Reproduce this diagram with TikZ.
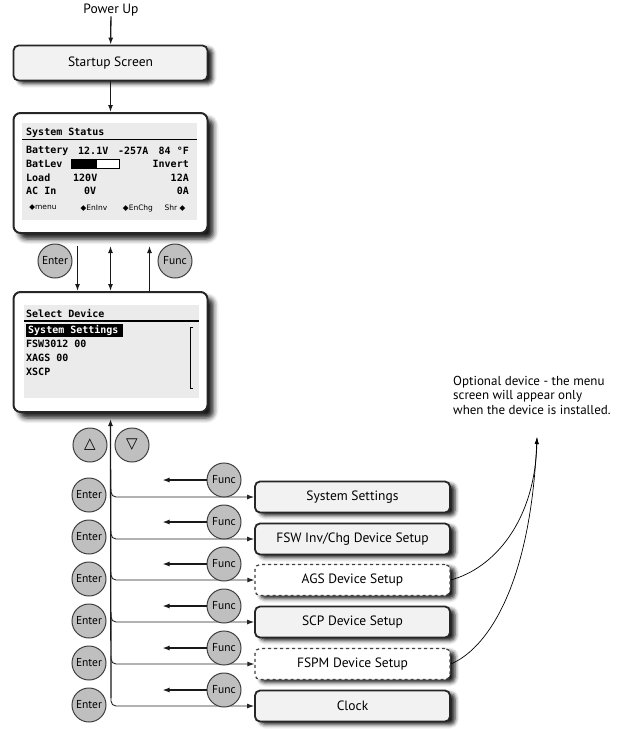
\documentclass[tikz,border=0pt]{standalone}
\usepackage{fontspec}
\setmainfont{PT Sans}
\newfontfamily\lcd{DejaVu Sans Mono}
\newfontfamily\djv{DejaVu Sans}
\usetikzlibrary{arrows.meta,shadows.blur}
\begin{document}
\begin{tikzpicture}[x=1pt,y=-1pt,
  every node/.style={inner sep=0pt},
  arr/.style={-{Latex[length=7pt,width=5pt]}, line width=1.3pt, black!90},
  thinarr/.style={-{Latex[length=7pt,width=5pt]}, line width=0.9pt, black!85, rounded corners=5pt},
  menubox/.style={rounded corners=5pt, draw=black!85, line width=1.8pt, fill=gray!10,
    minimum width=195pt, minimum height=31pt, font=\fontsize{13.5}{15}\selectfont,
    blur shadow={shadow xshift=5pt, shadow yshift=-3pt, shadow blur radius=4pt, shadow opacity=90}},
  optbox/.style={menubox, dashed, fill=white, draw=black!75, line width=1.3pt},
  screenbox/.style={rounded corners=7pt, draw=black!85, line width=2pt, fill=white,
    minimum width=194pt, minimum height=120pt,
    blur shadow={shadow xshift=6pt, shadow yshift=-6pt, shadow blur radius=5pt, shadow opacity=90}},
  key/.style={circle, fill=gray!50, draw=black!75, line width=1pt, minimum size=34pt,
    font=\fontsize{11.5}{13}\selectfont},
  lcdtxt/.style={font=\lcd\bfseries\fontsize{10}{12}\selectfont, anchor=west},
  lcdr/.style={lcdtxt, anchor=east},
  softkey/.style={font=\djv\fontsize{7.5}{9}\selectfont},
]
\useasboundingbox (0,0) rectangle (618,729);

% top
\node[font=\fontsize{13.5}{15}\selectfont] (pu) at (111,10) {Power Up};
\node[menubox, minimum width=194pt, minimum height=35pt] (start) at (110.5,63) {Startup Screen};
\draw[arr] (pu) -- (start);

% screen 1
\node[screenbox] (s1) at (110.5,173) {};
\fill[gray!16] (22,123) rectangle (197,220);
\node[lcdtxt] (t1) at (26,133) {System Status};
\draw[line width=1.3pt] (22,139.5) -- (197,139.5);
\node[lcdtxt] (r1a) at (26,151) {Battery};
\node[lcdtxt] (r1b) at (78,151) {12.1V};
\node[lcdtxt] (r1c) at (118,151) {-257A};
\node[lcdr] (r1d) at (189,151) {84 °F};
\node[lcdtxt] (r2a) at (26,164) {BatLev};
\draw[line width=0.8pt, fill=white] (71,159) rectangle (119,168);
\fill[black] (71,159) rectangle (97,168);
\node[lcdr] (r2b) at (189,164) {Invert};
\node[lcdtxt] (r3a) at (26,178) {Load};
\node[lcdtxt] (r3b) at (73,178) {120V};
\node[lcdr] (r3c) at (189,178) {12A};
\node[lcdtxt] (r4a) at (26,191) {AC In};
\node[lcdtxt] (r4b) at (84,191) {0V};
\node[lcdr] (r4c) at (189,191) {0A};
\node[softkey] (k1) at (43,208) {◆menu};
\node[softkey] (k2) at (94,208) {◆EnInv};
\node[softkey] (k3) at (138,208) {◆EnChg};
\node[softkey] (k4) at (175,208) {Shr ◆};

\draw[arr] (start) -- (s1);

% screen 2
\node[screenbox] (s2) at (110.5,352) {};
\fill[gray!16] (24,305) rectangle (199,398);
\node[lcdtxt] (t2) at (26,313) {Select Device};
\draw[line width=1.3pt] (24,321) -- (199,321);
\fill[black] (26,324) rectangle (123,337);
\node[lcdtxt, text=white] (d1) at (28,330.5) {System Settings};
\node[lcdtxt] (d2) at (26,344) {FSW3012 00};
\node[lcdtxt] (d3) at (26,358) {XAGS 00};
\node[lcdtxt] (d4) at (26,372) {XSCP};
\draw[line width=0.9pt] (193,327) -- (190,327) -- (190,388) -- (193,388);

% keys between screens
\node[key] (ent0) at (55,261) {Enter};
\node[key] (fun0) at (175,261) {Func};
\draw[arr, shorten <=12pt] ([xshift=-33pt]s1.south) -- ([xshift=-33pt]s2.north);
\draw[arr, {Latex[length=7pt,width=5pt]}-{Latex[length=7pt,width=5pt]}, shorten <=12pt] (s1.south) -- (s2.north);
\draw[arr, shorten >=12pt] ([xshift=39pt]s2.north) -- ([xshift=39pt]s1.south);

% up / down keys
\node[key, font=\djv\fontsize{15}{16}\selectfont] (up) at (90,445) {△};
\node[key, font=\djv\fontsize{15}{16}\selectfont] (dn) at (132,445) {▽};

% menu boxes
\node[menubox] (m1) at (352.5,497) {System Settings};
\node[menubox] (m2) at (352.5,539) {FSW Inv/Chg Device Setup};
\node[optbox]  (m3) at (352.5,580) {AGS Device Setup};
\node[menubox] (m4) at (352.5,622) {SCP Device Setup};
\node[optbox]  (m5) at (352.5,664) {FSPM Device Setup};
\node[menubox] (m6) at (352.5,706) {Clock};

% vertical spine
\coordinate (b1) at (111,489);
\coordinate (b2) at (111,531);
\coordinate (b3) at (111,572);
\coordinate (b4) at (111,614);
\coordinate (b5) at (111,656);
\coordinate (b6) at (111,698);
\draw[arr, shorten >=6pt] (b6) -- (s2.south);
\foreach \i in {1,...,6} {
  \draw[thinarr] (b\i) |- (m\i.west);
}

% enter and func keys
\foreach \i/\ye/\yf in {1/495/480, 2/537/522, 3/579/564, 4/621/606, 5/663/648, 6/705/690} {
  \node[key] (ent\i) at (89,\ye) {Enter};
  \node[key] (fun\i) at (224,\yf) {Func};
  \draw[arr] (fun\i.west) -- ++(-44,0);
}

% note
\node[anchor=north west, align=left, font=\fontsize{13}{14.5}\selectfont] (note) at (453,376)
  {Optional device - the menu\\screen will appear only\\when the device is installed.};
\coordinate (opt) at (537,437);
\draw[-{Latex[length=7pt,width=4pt]}, line width=0.7pt] (m3.east) .. controls (495,568) and (535,520) .. (opt);
\draw[-{Latex[length=7pt,width=4pt]}, line width=0.7pt] (m5.east) .. controls (485,650) and (530,590) .. (opt);
\end{tikzpicture}
\end{document}
